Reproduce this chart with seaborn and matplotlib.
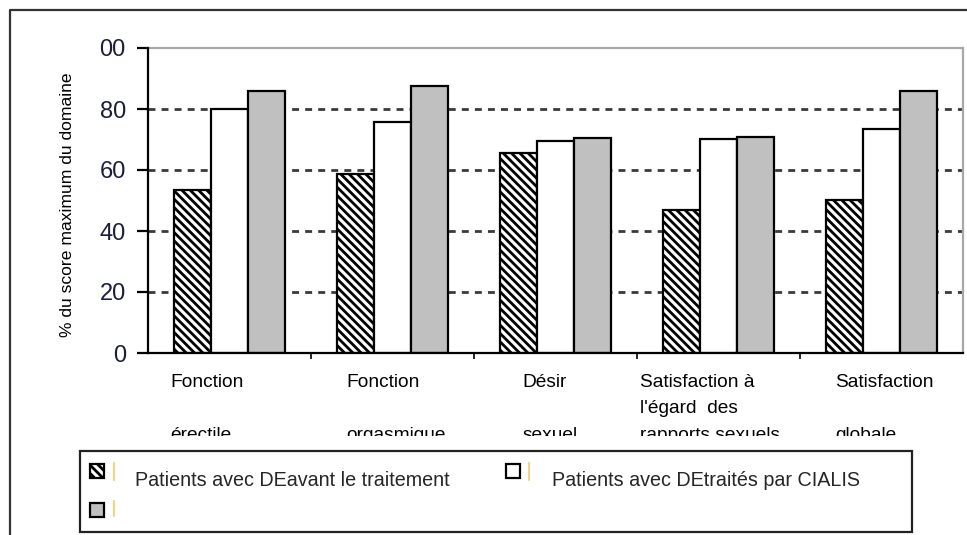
import matplotlib
matplotlib.use("Agg")
import matplotlib.pyplot as plt
import seaborn as sns
import pandas as pd
from matplotlib.patches import Rectangle
from matplotlib.lines import Line2D
from matplotlib.transforms import blended_transform_factory

# ---------------- data ----------------
categories = ["Fonction érectile", "Fonction orgasmique", "Désir sexuel",
              "Satisfaction à l'égard des rapports sexuels", "Satisfaction globale"]
category_labels = ["Fonction\n\nérectile", "Fonction\n\norgasmique", "Désir\n\nsexuel",
                   "Satisfaction à\nl'égard  des\nrapports sexuels", "Satisfaction\n\nglobale"]
series_names = ["Patients avec DEavant le traitement", "Patients avec DEtraités par CIALIS", ""]
avant = [53.5, 58.7, 65.5, 46.9, 50.2]
cialis = [80.0, 75.7, 69.5, 70.2, 73.4]
serie3 = [86.0, 87.7, 70.5, 70.8, 86.0]
y_ticks = [0, 20, 40, 60, 80, 100]
y_tick_labels = ["0", "20", "40", "60", "80", "00"]
y_label = "% du score maximum du domaine"

series_keys = ["avant", "cialis", "serie3"]
df = pd.DataFrame({
    "cat": categories * 3,
    "val": avant + cialis + serie3,
    "serie": [k for k in series_keys for _ in categories],
})

# ---------------- style ----------------
sns.set_theme(style="white")
plt.rcParams["font.family"] = ["Liberation Sans", "DejaVu Sans"]
plt.rcParams["hatch.linewidth"] = 2.0
plt.rcParams["hatch.color"] = "black"

W, H = 967, 535
fig = plt.figure(figsize=(W / 100, H / 100), dpi=100)
fig.patch.set_facecolor("white")

def fx(x):
    return x / W

def fy(y):
    return 1 - y / H

ax = fig.add_axes([fx(148), fy(353), (963 - 148) / W, (353 - 48) / H])

sns.barplot(data=df, x="cat", y="val", hue="serie", order=categories,
            hue_order=series_keys, palette=["white", "white", "#c0c0c0"],
            width=0.68, gap=0, saturation=1, edgecolor="black", linewidth=1.6,
            legend=False, errorbar=None, ax=ax, zorder=3)
for bar in ax.containers[0]:
    bar.set_hatch("\\\\\\\\")

ax.set_xlim(-0.5, len(categories) - 0.5)
ax.set_ylim(0, 100)
ax.set_yticks(y_ticks)
ax.set_yticklabels(y_tick_labels, fontsize=17, color="#1c1c3c")
ax.set_xticks([i + 0.5 for i in range(len(categories) - 1)])
ax.set_xticklabels([])
ax.set_xlabel("")
ax.set_ylabel("")
ax.tick_params(axis="y", direction="out", length=8, width=1.6, color="black", pad=8, left=True)
ax.tick_params(axis="x", direction="out", length=4, width=1.2, color="black", bottom=True)

for t in y_ticks[1:-1]:
    ax.axhline(t, color="#3a3a3a", lw=2.0, ls=(0, (2.5, 2.2)), zorder=1)

for s in ["left", "bottom"]:
    ax.spines[s].set_color("black")
    ax.spines[s].set_linewidth(1.6)
for s in ["top", "right"]:
    ax.spines[s].set_color("#a8a8a8")
    ax.spines[s].set_linewidth(1.6)
ax.spines["left"].set_zorder(4)
ax.spines["bottom"].set_zorder(4)

# y label
fig.text(fx(68), fy(205), y_label, rotation=90, ha="center", va="center",
         fontsize=12.6, color="black")

# category labels
offsets = [0.135, 0.215, 0.295, 0.018, 0.215]
trans = blended_transform_factory(ax.transData, fig.transFigure)
for i, (lab, off) in enumerate(zip(category_labels, offsets)):
    fig.text(i - 0.5 + off, fy(374), lab, transform=trans, ha="left", va="top",
             fontsize=13.8, color="black", linespacing=1.72, zorder=3)

# mask that cuts off the bottom of the category labels, as in the reference
fig.add_artist(Rectangle((fx(120), fy(451)), fx(967) - fx(120), fy(436) - fy(451),
                         transform=fig.transFigure, facecolor="white", edgecolor="none",
                         zorder=6))

# legend box
fig.add_artist(Rectangle((fx(80), fy(532)), fx(912) - fx(80), fy(451) - fy(532),
                         transform=fig.transFigure, facecolor="white",
                         edgecolor="#222222", lw=1.6, zorder=7))
handles = [((90, 464), "white", "\\\\\\\\"), ((506, 464), "white", None), ((90, 503), "#c0c0c0", None)]
for (x, y), fc, h in handles:
    fig.add_artist(Rectangle((fx(x), fy(y + 14)), 14 / W, 14 / H, transform=fig.transFigure,
                             facecolor=fc, edgecolor="black", lw=1.6, hatch=h, zorder=8))
for x, y0, y1 in [(114, 463, 480), (529, 463, 480), (114, 501, 516)]:
    fig.add_artist(Line2D([fx(x), fx(x)], [fy(y0), fy(y1)], transform=fig.transFigure,
                          color="#f3d38a", lw=1.6, zorder=8))
fig.text(fx(135), fy(480), series_names[0], ha="left", va="center", fontsize=14.2, zorder=9)
fig.text(fx(552), fy(480), series_names[1], ha="left", va="center", fontsize=14.2, zorder=9)

# outer frame
fig.add_artist(Line2D([fx(10), fx(10), fx(967)], [fy(535), fy(10), fy(10)],
                      transform=fig.transFigure, color="#333333", lw=1.6, zorder=9))

fig.savefig("out.png", dpi=100)
